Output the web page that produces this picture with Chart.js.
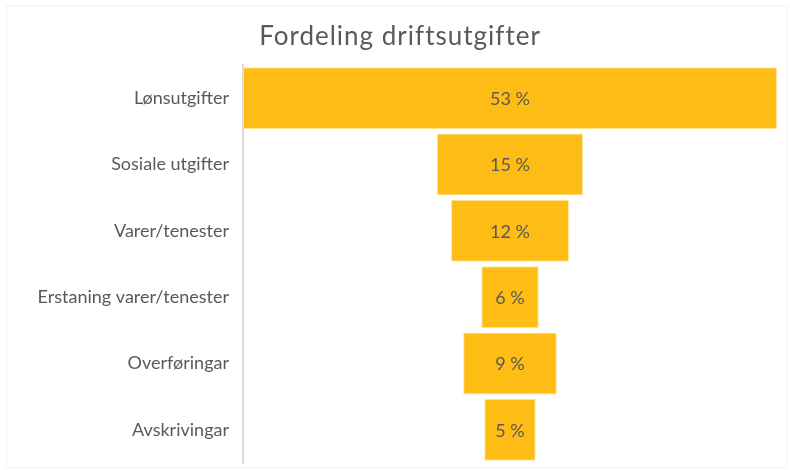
<!DOCTYPE html>
<html>
<head>
<meta charset="utf-8">
<script src="https://cdn.jsdelivr.net/npm/chart.js@4"></script>
<style>
html,body{margin:0;padding:0;background:#fff;}
#wrap{width:790px;height:470px;position:relative;}
</style>
</head>
<body>
<div id="wrap"><canvas id="c" width="790" height="470"></canvas></div>
<script>
const categories = ["Lønsutgifter", "Sosiale utgifter", "Varer/tenester", "Erstaning varer/tenester", "Overføringar", "Avskrivingar"];
const values = [53, 14.5, 11.7, 5.7, 9.3, 5.1];
const chartTitle = "Fordeling driftsutgifter";

const half = Math.max(...values) / 2;
const floating = values.map(v => [-v / 2, v / 2]);
const FONT = 'Lato, "Open Sans", sans-serif';

const frame = {
  id: 'frame',
  beforeDraw(chart) {
    const ctx = chart.ctx;
    ctx.save();
    ctx.strokeStyle = '#e6e6e6';
    ctx.lineWidth = 1;
    ctx.setLineDash([1, 1]);
    ctx.strokeRect(6.5, 5.5, 781, 462);
    ctx.setLineDash([]);
    ctx.fillStyle = '#595959';
    ctx.font = '26px ' + FONT;
    ctx.letterSpacing = '1px';
    ctx.textAlign = 'center';
    ctx.textBaseline = 'middle';
    ctx.fillText(chartTitle, 400, 37);
    ctx.restore();
  }
};

const labelsPlugin = {
  id: 'barLabels',
  afterDatasetsDraw(chart) {
    const ctx = chart.ctx;
    const meta = chart.getDatasetMeta(0);
    ctx.save();
    ctx.fillStyle = '#595959';
    ctx.font = '18px ' + FONT;
    ctx.textAlign = 'center';
    ctx.textBaseline = 'middle';
    meta.data.forEach((bar, i) => {
      const xc = chart.scales.x.getPixelForValue(0);
      ctx.fillText(Math.round(values[i]) + ' %', xc, bar.y + 1);
    });
    ctx.restore();
  }
};

new Chart(document.getElementById('c'), {
  type: 'bar',
  data: {
    labels: categories,
    datasets: [{
      data: floating,
      backgroundColor: '#FDBD14',
      borderColor: '#FFE6A0',
      borderWidth: 1,
      borderSkipped: false,
      barPercentage: 0.935,
      categoryPercentage: 1
    }]
  },
  options: {
    indexAxis: 'y',
    responsive: false,
    animation: false,
    layout: { padding: { top: 65, right: 13, bottom: 7, left: 0 } },
    plugins: {
      legend: { display: false },
      tooltip: { enabled: false },
      title: { display: false }
    },
    scales: {
      x: {
        display: false,
        min: -half,
        max: half
      },
      y: {
        grid: { display: false, drawTicks: false },
        border: { display: true, color: '#d9d9d9', width: 2 },
        ticks: {
          color: '#595959',
          font: { family: FONT, size: 18 },
          padding: 14
        },
        afterFit(scale) {
          scale.width = 243;
          scale.paddingTop = 0;
          scale.paddingBottom = 0;
        }
      }
    }
  },
  plugins: [frame, labelsPlugin]
});
</script>
</body>
</html>
